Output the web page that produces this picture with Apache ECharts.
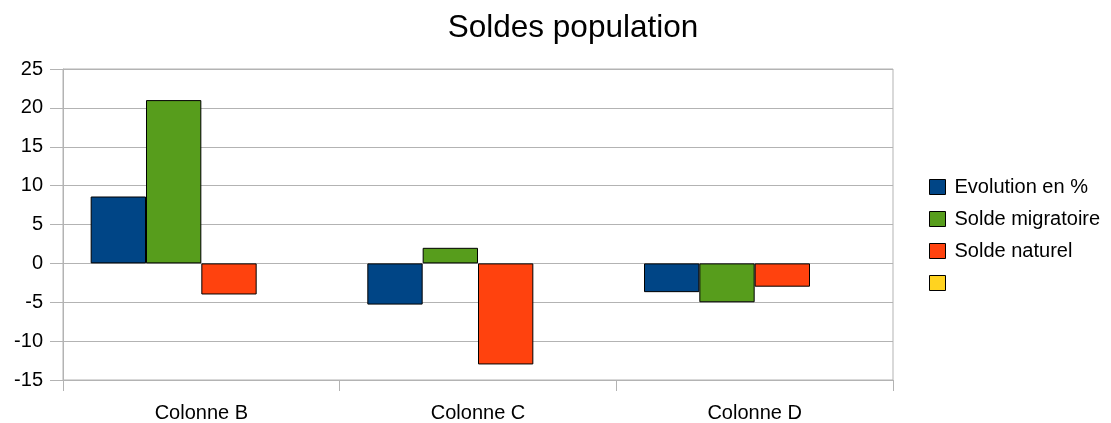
<!DOCTYPE html>
<html><head><meta charset="utf-8">
<script src="https://cdn.jsdelivr.net/npm/echarts@6/dist/echarts.min.js"></script>
<style>html,body{margin:0;padding:0;background:#fff}#c{width:1111px;height:423px}</style>
</head><body><div id="c"></div>
<script>
const categories = ['Colonne B', 'Colonne C', 'Colonne D'];
const seriesNames = ['Evolution en %', 'Solde migratoire', 'Solde naturel', ' '];
const evolution = [8.6, -5.3, -3.7];
const soldeMigratoire = [21, 2, -5];
const soldeNaturel = [-4, -13, -3];
const empty = [null, null, null];
const yTicks = { min: -15, max: 25, interval: 5 };
const colors = ['#004586', '#579d1c', '#ff420e', '#ffd320'];
const values = [evolution, soldeMigratoire, soldeNaturel, empty];
const font = 'Liberation Sans, Arial, sans-serif';

const chart = echarts.init(document.getElementById('c'), null, { renderer: 'canvas' });
chart.setOption({
  animation: false,
  title: { text: 'Soldes population', left: 568, top: 7, textAlign: 'center',
    textStyle: { fontFamily: font, fontSize: 31.5, fontWeight: 'normal', color: '#000' } },
  grid: { left: 63, right: 218, top: 69, bottom: 43, show: true, borderColor: '#b3b3b3', borderWidth: 1 },
  legend: {
    orient: 'vertical', left: 924, top: 172, itemWidth: 16, itemHeight: 15, itemGap: 12,
    icon: 'rect',
    textStyle: { fontFamily: font, fontSize: 20, color: '#000', padding: [0, 0, 0, 4] },
    data: seriesNames.map((n, i) => ({ name: n, itemStyle: { color: colors[i], borderColor: '#000', borderWidth: 1 } }))
  },
  xAxis: {
    type: 'category', data: categories,
    axisLine: { onZero: false, lineStyle: { color: '#b3b3b3' } },
    axisTick: { show: true, length: 11, lineStyle: { color: '#b3b3b3' } },
    axisLabel: { fontFamily: font, fontSize: 20, color: '#000', margin: 23 },
    splitLine: { show: false }
  },
  yAxis: {
    type: 'value', min: yTicks.min, max: yTicks.max, interval: yTicks.interval,
    axisLine: { show: true, lineStyle: { color: '#b3b3b3' } },
    axisTick: { show: true, length: 13, lineStyle: { color: '#b3b3b3' } },
    axisLabel: { fontFamily: font, fontSize: 20, color: '#000', margin: 20 },
    splitLine: { lineStyle: { color: '#b3b3b3' } }
  },
  series: seriesNames.map((n, i) => ({
    name: n, type: 'bar', data: values[i], barGap: '0%', barCategoryGap: '20%',
    itemStyle: { color: colors[i], borderColor: '#000', borderWidth: 1 }
  }))
});
</script></body></html>
